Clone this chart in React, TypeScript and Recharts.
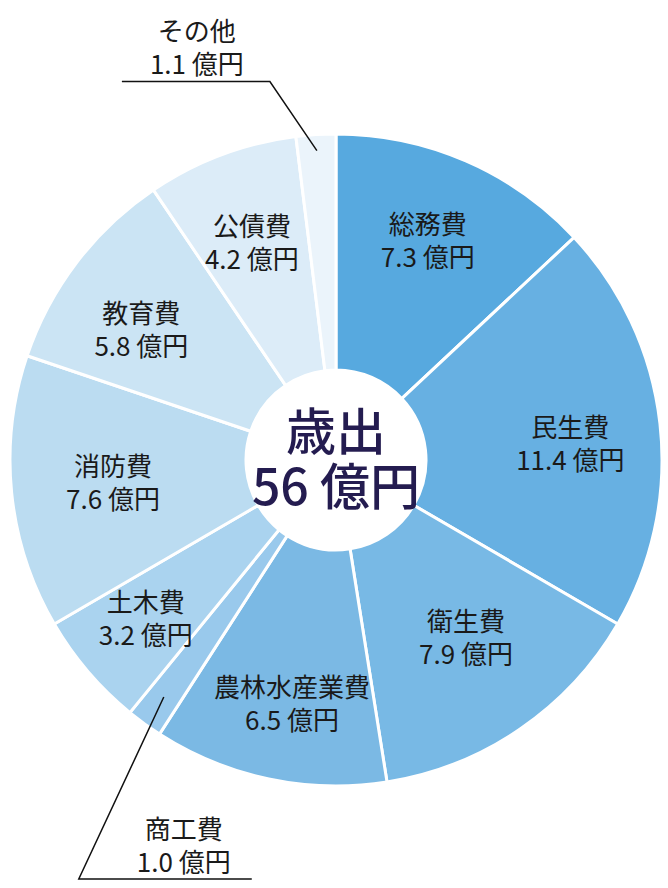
import React from "react";
import { PieChart, Pie, Cell } from "recharts";

const categories = ["総務費", "民生費", "衛生費", "農林水産業費", "商工費", "土木費", "消防費", "教育費", "公債費", "その他"];
const values = [7.3, 11.4, 7.9, 6.5, 1.0, 3.2, 7.6, 5.8, 4.2, 1.1];
const colors = ["#57a9df", "#67b0e2", "#78b9e5", "#7bb9e4", "#99c9ec", "#aad3ef", "#bbdcf1", "#cbe4f4", "#dcecf8", "#ebf4fb"];
const unit = "億円";
const centerTitle = "歳出";
const centerTotal = "56 億円";

// inside-label placement: radius and angle nudge (degrees, clockwise) per category
const labelPlacement: Record<string, { r: number; da: number }> = {
  "総務費": { r: 239, da: -0.9 },
  "民生費": { r: 235, da: 2.0 },
  "衛生費": { r: 219, da: -2.0 },
  "農林水産業費": { r: 246, da: -1.6 },
  "土木費": { r: 247, da: 0.9 },
  "消防費": { r: 224, da: 0.4 },
  "教育費": { r: 235, da: -3.2 },
  "公債費": { r: 235, da: -0.4 },
};

// callout (leader line) categories: anchor radius, elbow offset from anchor, horizontal run, text offset
const callouts: Record<string, { r: number; dx: number; dy: number; run: number; tx: number }> = {
  "その他": { r: 310, dx: -47, dy: -69, run: -148, tx: -73 },
  "商工費": { r: 293, dx: -85, dy: 182, run: 173, tx: 105 },
};

const data = categories.map((name, i) => ({ name, value: values[i] }));

const FONT = "'Noto Sans CJK JP', 'Noto Sans', sans-serif";
const RADIAN = Math.PI / 180;

const renderLabel = (props: any) => {
  const { cx, cy, midAngle, name, value, index } = props;
  const text2 = `${value.toFixed(1)} ${unit}`;
  const center =
    index === 0 ? (
      <g>
        <text x={cx} y={cy - 32} textAnchor="middle" dominantBaseline="central" fontSize={50} fontWeight={500} fill="#241c50" fontFamily={FONT}>{centerTitle}</text>
        <text x={cx} y={cy + 23} textAnchor="middle" dominantBaseline="central" fontSize={50} fontWeight={500} fill="#241c50" fontFamily={FONT}>{centerTotal}</text>
      </g>
    ) : null;
  const co = callouts[name];
  if (co) {
    const ax = cx + co.r * Math.cos(-midAngle * RADIAN);
    const ay = cy + co.r * Math.sin(-midAngle * RADIAN);
    const ex = ax + co.dx;
    const ey = ay + co.dy;
    const tx = ex + co.tx;
    return (
      <g>
        {center}
        <polyline points={`${ax},${ay} ${ex},${ey} ${ex + co.run},${ey}`} fill="none" stroke="#111" strokeWidth={1.5} />
        <text x={tx} y={ey - 52} textAnchor="middle" dominantBaseline="central" fontSize={26} fill="#1a1a1a" fontFamily={FONT}>{name}</text>
        <text x={tx} y={ey - 19} textAnchor="middle" dominantBaseline="central" fontSize={26} fill="#1a1a1a" fontFamily={FONT}>{text2}</text>
      </g>
    );
  }
  const lp = labelPlacement[name] || { r: 235, da: 0 };
  const ang = midAngle - lp.da;
  const x = cx + lp.r * Math.cos(-ang * RADIAN);
  const y = cy + lp.r * Math.sin(-ang * RADIAN);
  return (
    <g>
      {center}
      <text x={x} y={y - 16.5} textAnchor="middle" dominantBaseline="central" fontSize={26} fill="#1a1a1a" fontFamily={FONT}>{name}</text>
      <text x={x} y={y + 16.5} textAnchor="middle" dominantBaseline="central" fontSize={26} fill="#1a1a1a" fontFamily={FONT}>{text2}</text>
    </g>
  );
};

export default function App() {
  return (
    <div style={{ position: "absolute", left: 0, top: 0, width: 668, height: 888, background: "#fff" }}>
      <PieChart width={668} height={888} margin={{ top: 0, right: 0, bottom: 0, left: 0 }}>
        <Pie
          data={data}
          dataKey="value"
          nameKey="name"
          cx={336}
          cy={460}
          innerRadius={90}
          outerRadius={326}
          startAngle={90}
          endAngle={-270}
          stroke="#ffffff"
          strokeWidth={3}
          label={renderLabel}
          labelLine={false}
          isAnimationActive={false}
        >
          {data.map((d, i) => (
            <Cell key={d.name} fill={colors[i]} />
          ))}
        </Pie>
      </PieChart>
    </div>
  );
}
